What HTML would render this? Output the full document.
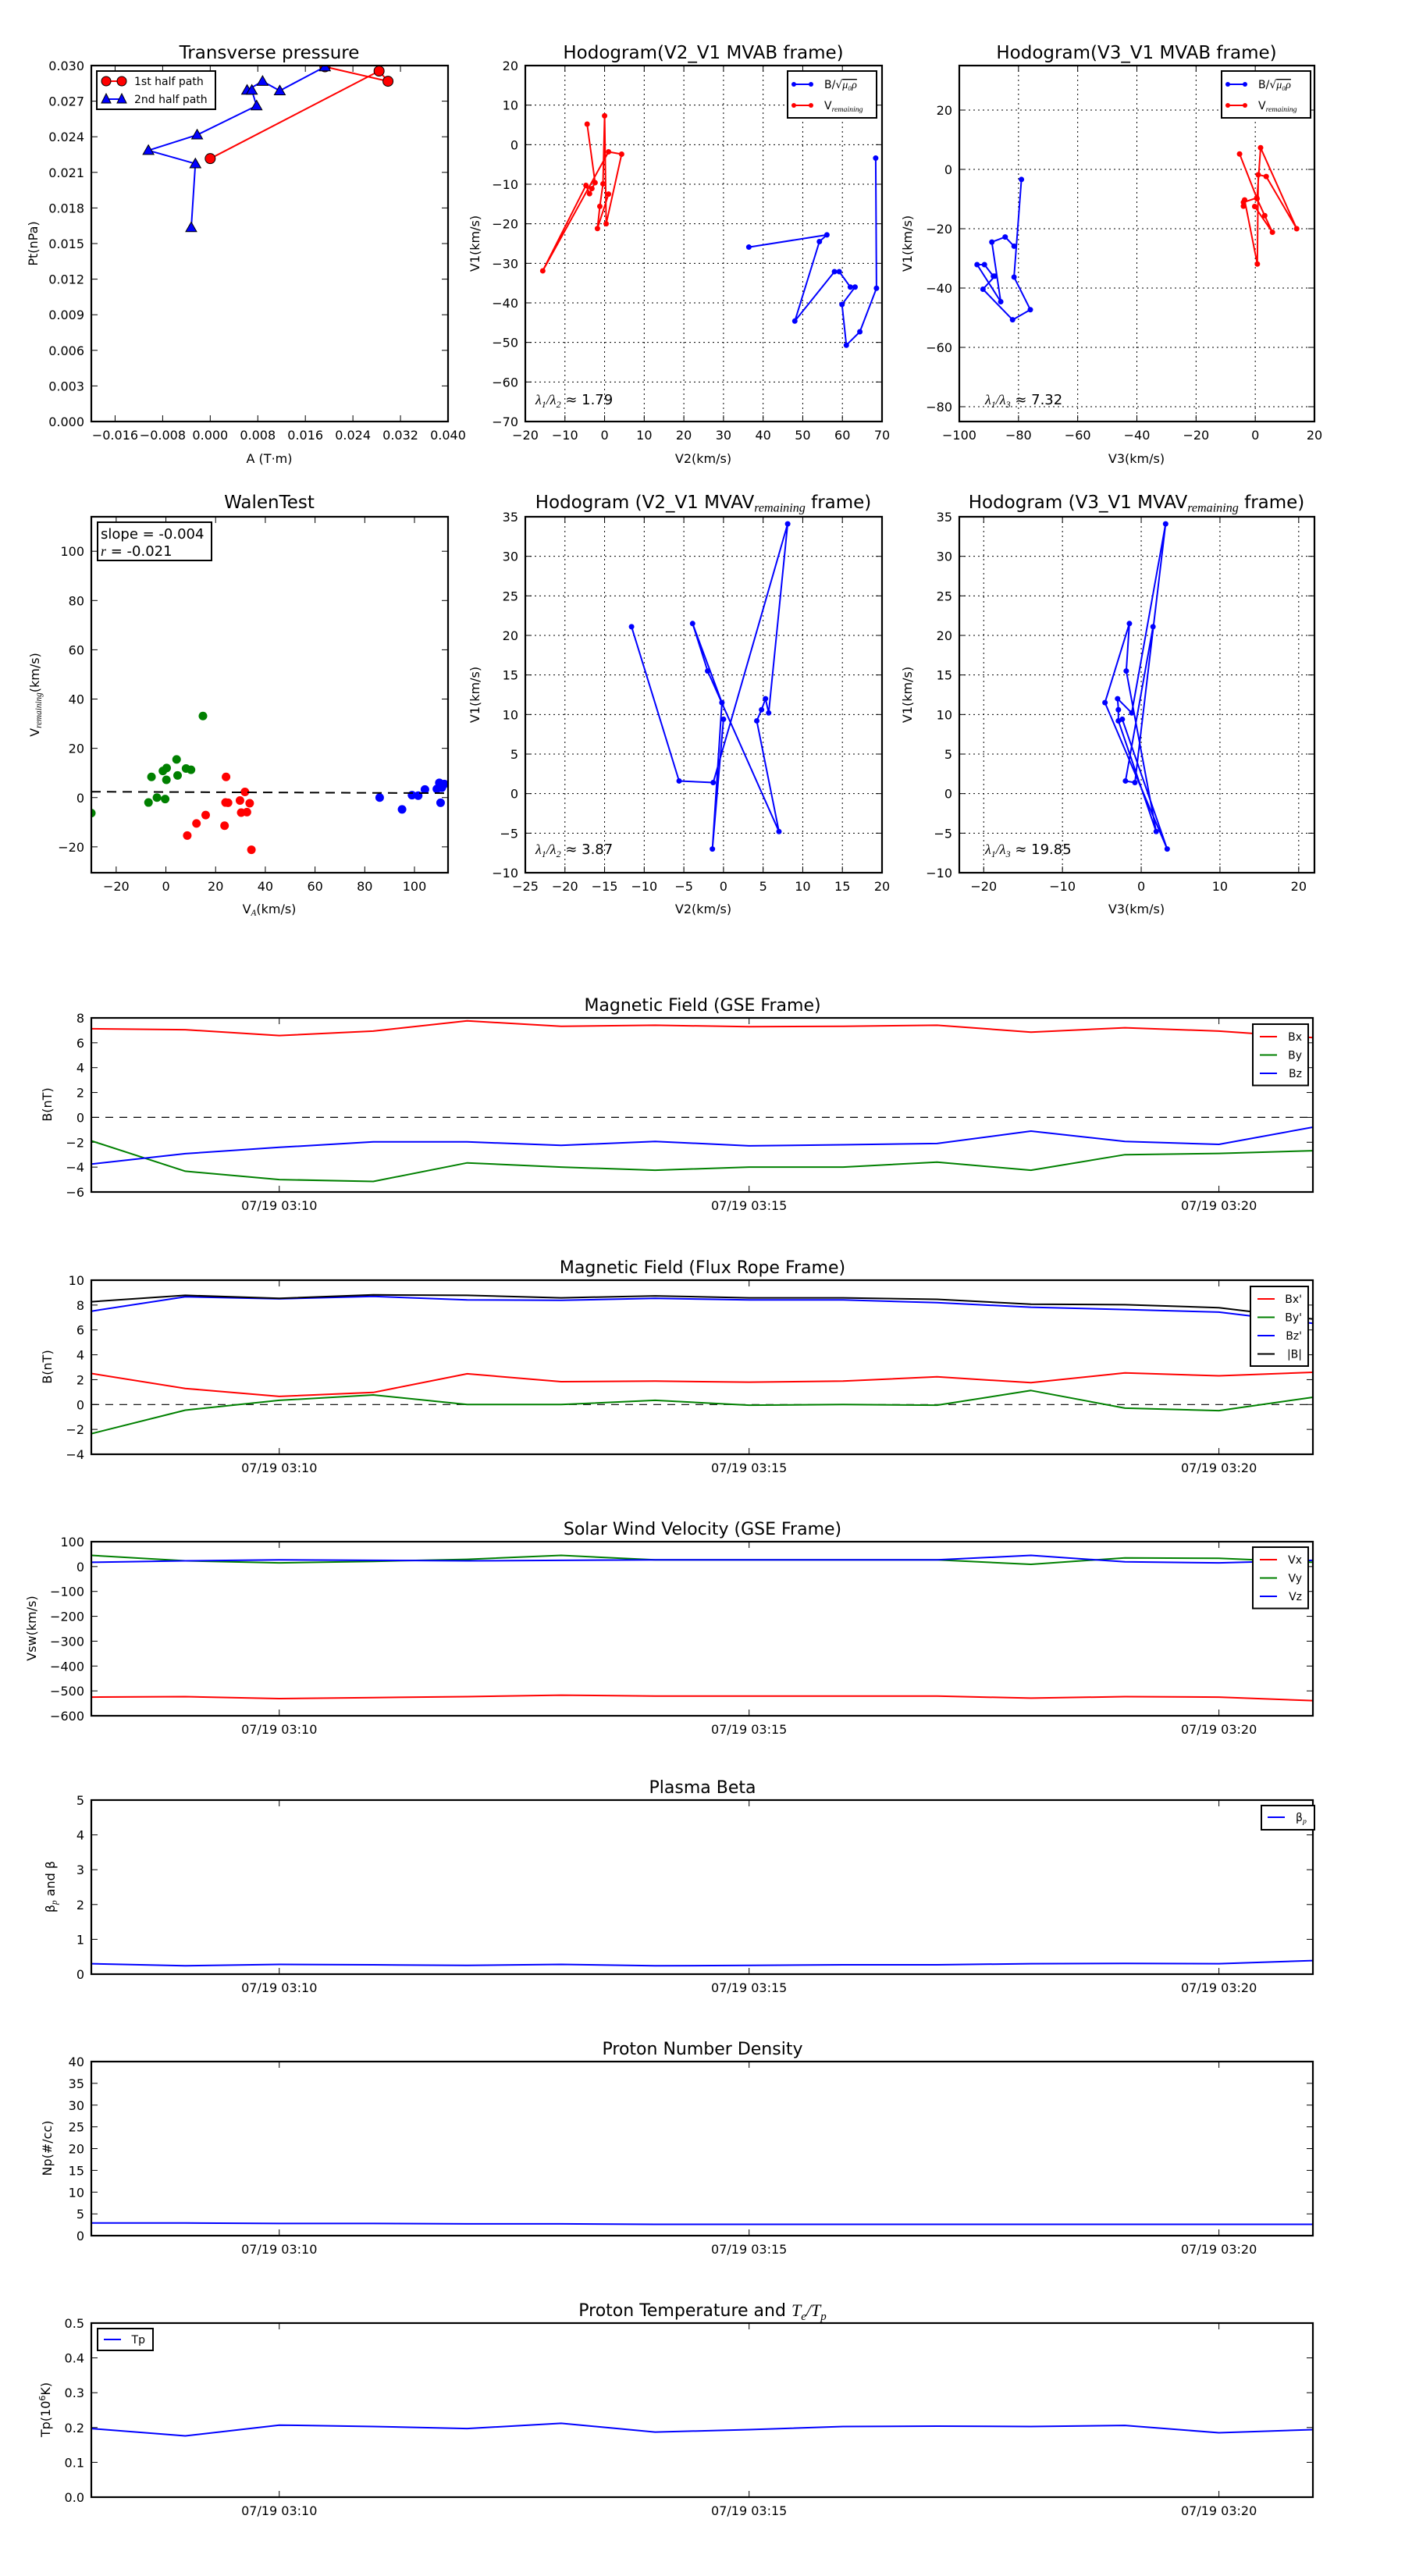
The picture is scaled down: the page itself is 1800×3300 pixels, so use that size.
<!DOCTYPE html>
<html><head><meta charset="utf-8"><title>Flux rope analysis</title>
<style>
html,body{margin:0;padding:0;background:#fff;}
svg{display:block;font-family:"DejaVu Sans","Liberation Sans",sans-serif;}
</style></head>
<body>
<svg id="fig" xmlns="http://www.w3.org/2000/svg" width="1800" height="3300" viewBox="0 0 1800 3300"></svg>
<script>
// ---------- Transverse pressure ----------
const tpA1 = [0.0000, 0.0284, 0.0299, 0.0193];
const tpP1 = [0.02216, 0.02954, 0.02868, 0.02990];
const tpA2 = [0.0193, 0.0117, 0.0088, 0.0062, 0.0070, 0.0078, -0.0022, -0.0104, -0.0025, -0.0032];
const tpP2 = [0.02990, 0.02788, 0.02868, 0.02793, 0.02793, 0.02661, 0.02416, 0.02285, 0.02173, 0.01635];
const tpXTicks = [-0.016, -0.008, 0, 0.008, 0.016, 0.024, 0.032, 0.040];
const tpYTicks = [0, 0.003, 0.006, 0.009, 0.012, 0.015, 0.018, 0.021, 0.024, 0.027, 0.030];
// ---------- MVAB hodograms ----------
const mvabBlueV2 = [36.4, 56.1, 54.2, 48.0, 58.0, 59.2, 62.0, 63.2, 59.9, 61.0, 64.4, 68.6, 68.4];
const mvabBlueV1 = [-25.9, -22.8, -24.5, -44.6, -32.1, -32.1, -36.0, -36.0, -40.4, -50.7, -47.3, -36.3, -3.4];
const mvabBlueV3 = [-81.5, -84.5, -89, -86, -94, -91.5, -88.5, -88, -92, -82, -76, -81.5, -79];
const mvabRedV2 = [-4.4, -2.4, -3.2, -3.8, -4.7, -15.6, 1.0, 4.3, 0.4, 0.0, -0.4, -1.2, -1.8, 1.0];
const mvabRedV1 = [5.2, -9.6, -11.1, -12.4, -10.3, -31.9, -1.8, -2.4, -20.0, 7.3, -9.9, -15.6, -21.2, -12.5];
const mvabRedV3 = [-5.3, 0.5, -4.0, -4.0, -3.6, 0.7, 1.0, 3.7, 14.0, 1.8, 0.6, 3.2, 5.8, -0.2];
// ---------- Walen test ----------
const walenGreenX = [-30, -7, -5.8, -3.6, -1.2, 0.3, -0.3, 0.2, 4.3, 4.7, 8.1, 10.1, 14.9];
const walenGreenY = [-6.3, -2.0, 8.4, 0.0, 10.8, 12.0, -0.6, 7.2, 15.5, 9.0, 11.8, 11.3, 33.1];
const walenRedX = [24.2, 24.0, 25.0, 29.8, 31.8, 33.7, 30.3, 32.6, 16.0, 12.3, 23.6, 8.6, 34.4];
const walenRedY = [8.4, -2.0, -2.1, -1.2, 2.3, -2.3, -6.1, -5.9, -7.1, -10.5, -11.4, -15.4, -21.2];
const walenBlueX = [86, 95, 99, 101.5, 104.2, 109, 110, 112, 110.5, 111];
const walenBlueY = [0.0, -4.8, 1.0, 0.8, 3.3, 3.5, 6.0, 5.5, -2.1, 4.0];
const walenFitX = [-30, 113];
const walenFitY = [2.4, 1.8];
const walenTicks = [-20, 0, 20, 40, 60, 80, 100];
// ---------- MVAV hodograms ----------
const mvavV1 = [21.1, 1.6, 1.4, 34.1, 10.2, 12.0, 10.6, 9.2, -4.8, 15.5, 21.5, 11.5, -7.0, 9.4];
const mvavV2 = [-11.6, -5.6, -1.3, 8.1, 5.7, 5.3, 4.8, 4.2, 7.0, -2.0, -3.9, -0.2, -1.4, 0.0];
const mvavV3 = [1.5, -2.0, -0.8, 3.1, -1.2, -3.0, -2.9, -2.9, 1.9, -1.9, -1.5, -4.6, 3.3, -2.4];
// ---------- Time series (minutes after 03:00) ----------
const tsMinutes = [8, 9, 10, 11, 12, 13, 14, 15, 16, 17, 18, 19, 20, 21];
const tsTickMinutes = [10, 15, 20];
const tsTickLabels = ["07/19 03:10", "07/19 03:15", "07/19 03:20"];
const gseBx = [7.13, 7.05, 6.58, 6.94, 7.76, 7.33, 7.41, 7.29, 7.33, 7.41, 6.86, 7.21, 6.94, 6.42];
const gseBy = [-1.89, -4.33, -5.0, -5.15, -3.66, -4.0, -4.25, -4.0, -4.0, -3.6, -4.25, -3.0, -2.9, -2.68];
const gseBz = [-3.75, -2.92, -2.41, -1.97, -1.97, -2.25, -1.93, -2.29, -2.2, -2.1, -1.1, -1.93, -2.17, -0.79];
const frBx = [2.5, 1.29, 0.65, 0.97, 2.47, 1.84, 1.88, 1.8, 1.88, 2.23, 1.76, 2.55, 2.31, 2.59];
const frBy = [-2.34, -0.45, 0.34, 0.77, 0.0, 0.0, 0.34, -0.05, 0.0, -0.05, 1.13, -0.29, -0.49, 0.58];
const frBz = [7.51, 8.66, 8.5, 8.7, 8.42, 8.38, 8.54, 8.42, 8.42, 8.19, 7.83, 7.64, 7.43, 6.53];
const frBt = [8.27, 8.78, 8.54, 8.82, 8.78, 8.58, 8.74, 8.58, 8.58, 8.46, 8.07, 8.03, 7.79, 6.88];
const vswVx = [-525, -523, -531, -527, -523, -517, -521, -521, -521, -521, -529, -523, -525, -539];
const vswVy = [45, 23, 15, 21, 29, 45, 27, 27, 27, 27, 9, 35, 33, 17];
const vswVz = [17, 23, 27, 25, 23, 25, 27, 27, 27, 27, 45, 19, 15, 25];
const betaP = [0.30, 0.24, 0.28, 0.27, 0.25, 0.28, 0.24, 0.25, 0.27, 0.27, 0.30, 0.31, 0.30, 0.39];
const densNp = [2.9, 2.9, 2.8, 2.8, 2.7, 2.7, 2.6, 2.6, 2.6, 2.6, 2.6, 2.6, 2.6, 2.6];
const tempTp = [0.197, 0.176, 0.207, 0.203, 0.197, 0.212, 0.187, 0.194, 0.203, 0.204, 0.203, 0.206, 0.185, 0.194];

const NS = "http://www.w3.org/2000/svg";
const fig = document.getElementById("fig");
let clipId = 0;

function mk(tag, attrs, parent, name) {
  const e = document.createElementNS(NS, tag);
  for (const k in attrs) e.setAttribute(k, attrs[k]);
  
  
  parent.appendChild(e);
  return e;
}
function txt(parent, x, y, s, size, anchor, name, extra) {
  const t = mk("text", Object.assign({x: x, y: y, "font-size": size, "text-anchor": anchor || "middle", fill: "#000"}, extra || {}), parent, name);
  t.textContent = s;
  return t;
}
function fmtNum(v, d) {
  const s = Math.abs(v).toFixed(d);
  return (v < -1e-12 ? "\u2212" : "") + s;
}

function makeAxes(o) {
  const g = mk("g", {}, fig, o.name);
  const sx = v => o.x0 + (v - o.xmin) / (o.xmax - o.xmin) * o.w;
  const sy = v => o.y0 + o.h - (v - o.ymin) / (o.ymax - o.ymin) * o.h;
  const id = "clip" + (clipId++);
  const cp = mk("clipPath", {id: id}, g, "clip-region");
  mk("rect", {x: o.x0, y: o.y0, width: o.w, height: o.h}, cp, "clip-rect");
  const tl = o.tickLen || 8;
  const fs = o.fs || 16;
  if (o.grid) {
    o.xt.forEach(v => { const X = sx(v); if (X > o.x0 + 1 && X < o.x0 + o.w - 1)
      mk("line", {x1: X, x2: X, y1: o.y0, y2: o.y0 + o.h, stroke: "#000", "stroke-width": 1, "stroke-dasharray": "2,4"}, g, "x-gridline"); });
    o.yt.forEach(v => { const Y = sy(v); if (Y > o.y0 + 1 && Y < o.y0 + o.h - 1)
      mk("line", {x1: o.x0, x2: o.x0 + o.w, y1: Y, y2: Y, stroke: "#000", "stroke-width": 1, "stroke-dasharray": "2,4"}, g, "y-gridline"); });
  }
  o.xt.forEach((v, i) => {
    const X = sx(v);
    mk("line", {x1: X, x2: X, y1: o.y0 + o.h, y2: o.y0 + o.h - tl, stroke: "#000", "stroke-width": 1}, g, "x-tick");
    mk("line", {x1: X, x2: X, y1: o.y0, y2: o.y0 + tl, stroke: "#000", "stroke-width": 1}, g, "x-tick-top");
    const lab = o.xlab ? o.xlab[i] : fmtNum(v, o.xd || 0);
    txt(g, X, o.y0 + o.h + 23, lab, fs, "middle", "x-tick-label");
  });
  o.yt.forEach((v, i) => {
    const Y = sy(v);
    mk("line", {x1: o.x0, x2: o.x0 + tl, y1: Y, y2: Y, stroke: "#000", "stroke-width": 1}, g, "y-tick");
    mk("line", {x1: o.x0 + o.w, x2: o.x0 + o.w - tl, y1: Y, y2: Y, stroke: "#000", "stroke-width": 1}, g, "y-tick-right");
    txt(g, o.x0 - 9, Y + 6, fmtNum(v, o.yd || 0), fs, "end", "y-tick-label");
  });
  const data = mk("g", {"clip-path": "url(#" + id + ")"}, g, "plot-area");
  return {g: g, data: data, sx: sx, sy: sy, o: o};
}
function frame(ax) {
  const o = ax.o;
  mk("rect", {x: o.x0, y: o.y0, width: o.w, height: o.h, fill: "none", stroke: "#000", "stroke-width": 2.2}, ax.g, "axes-frame");
}
function polyline(ax, xs, ys, color, name, width, dash) {
  const pts = xs.map((x, i) => ax.sx(x).toFixed(1) + "," + ax.sy(ys[i]).toFixed(1)).join(" ");
  const a = {points: pts, fill: "none", stroke: color, "stroke-width": width || 2, "stroke-linejoin": "round"};
  if (dash) a["stroke-dasharray"] = dash;
  return mk("polyline", a, ax.data, name);
}
function dots(ax, xs, ys, color, r, name, edge) {
  xs.forEach((x, i) => {
    mk("circle", {cx: ax.sx(x), cy: ax.sy(ys[i]), r: r, fill: color, stroke: edge ? "#000" : "none", "stroke-width": edge ? 1 : 0}, ax.data, name);
  });
}
function tris(ax, xs, ys, color, s, name) {
  xs.forEach((x, i) => {
    const X = ax.sx(x), Y = ax.sy(ys[i]);
    mk("polygon", {points: `${X},${Y - s} ${X - s},${Y + s * 0.75} ${X + s},${Y + s * 0.75}`, fill: color, stroke: "#000", "stroke-width": 1}, ax.data, name);
  });
}
function ylabel(parent, x, y, s, size, name) {
  return txt(parent, x, y, s, size, "middle", name, {transform: `rotate(-90 ${x} ${y})`});
}
function subscripted(parent, x, y, base, sub, tail, size, anchor, name) {
  const t = mk("text", {x: x, y: y, "font-size": size, "text-anchor": anchor, fill: "#000"}, parent, name);
  const a = mk("tspan", {}, t, name + "-base"); a.textContent = base;
  const b = mk("tspan", {"font-style": "italic", "font-family": "Liberation Serif, serif", "font-size": size * 0.7, dy: size * 0.2}, t, name + "-sub"); b.textContent = sub;
  if (tail) { const c = mk("tspan", {dy: -size * 0.2}, t, name + "-tail"); c.textContent = tail; }
  return t;
}
function lambdaText(parent, x, y, a, b, val) {
  const t = mk("text", {x: x, y: y, "font-size": 18, fill: "#000"}, parent, "eigenvalue-ratio");
  const p = [["\u03bb", 0, 18, "it"], [a, 4, 12, "it"], ["/\u03bb", -4, 18, "it"], [b, 4, 12, "it"], [" \u2248 " + val, -4, 18, ""]];
  p.forEach(q => {
    const s = mk("tspan", {dy: q[1], "font-size": q[2], "font-family": q[3] ? "Liberation Serif, serif" : "DejaVu Sans, sans-serif", "font-style": q[3] ? "italic" : "normal"}, t, "ratio-part");
    s.textContent = q[0];
  });
}
function legendBox(parent, x, y, w, h, name) {
  return mk("rect", {x: x, y: y, width: w, height: h, fill: "#fff", stroke: "#000", "stroke-width": 2}, parent, name);
}
function bmuLegend(parent, x0, y0) {
  const g = mk("g", {}, parent, "legend");
  legendBox(g, x0, y0, 114, 60, "legend-box");
  mk("line", {x1: x0 + 8, x2: x0 + 30, y1: y0 + 17, y2: y0 + 17, stroke: "#0000ff", "stroke-width": 2}, g, "legend-line-b");
  mk("circle", {cx: x0 + 8, cy: y0 + 17, r: 3, fill: "#0000ff"}, g, "legend-marker");
  mk("circle", {cx: x0 + 30, cy: y0 + 17, r: 3, fill: "#0000ff"}, g, "legend-marker");
  const t = mk("text", {x: x0 + 47, y: y0 + 22, "font-size": 14}, g, "legend-label-b");
  const s1 = mk("tspan", {}, t, "label-b"); s1.textContent = "B/\u221a";
  const s2 = mk("tspan", {"font-style": "italic", "font-family": "Liberation Serif, serif", "text-decoration": "overline"}, t, "label-mu"); s2.textContent = "\u03bc\u2080\u03c1";
  mk("line", {x1: x0 + 8, x2: x0 + 30, y1: y0 + 44, y2: y0 + 44, stroke: "#ff0000", "stroke-width": 2}, g, "legend-line-v");
  mk("circle", {cx: x0 + 8, cy: y0 + 44, r: 3, fill: "#ff0000"}, g, "legend-marker");
  mk("circle", {cx: x0 + 30, cy: y0 + 44, r: 3, fill: "#ff0000"}, g, "legend-marker");
  subscripted(g, x0 + 47, y0 + 49, "V", "remaining", "", 14, "start", "legend-label-v");
}
function tsLegend(parent, x0, y0, w, entries, name) {
  const g = mk("g", {}, parent, name);
  const h = entries.length * 23.5 + 8;
  legendBox(g, x0, y0, w, h, "legend-box");
  entries.forEach((e, i) => {
    const y = y0 + 16 + i * 23.5;
    mk("line", {x1: x0 + 9, x2: x0 + 31, y1: y, y2: y, stroke: e[1], "stroke-width": 2}, g, "legend-line");
    const t = mk("text", {x: x0 + w - 8, y: y + 5, "font-size": 14, "text-anchor": "end"}, g, "legend-label");
    t.textContent = e[0];
  });
}

// ================= Top row =================
(function () {
  const ax = makeAxes({name: "transverse-pressure-chart", x0: 117, y0: 84, w: 457, h: 456, xmin: -0.020, xmax: 0.040, ymin: 0, ymax: 0.030, xt: tpXTicks, yt: tpYTicks, xd: 3, yd: 3});
  txt(ax.g, 345, 75, "Transverse pressure", 23, "middle", "chart-title");
  txt(ax.g, 345, 593, "A (T\u00b7m)", 16, "middle", "x-axis-title");
  ylabel(ax.g, 48, 312, "Pt(nPa)", 16, "y-axis-title");
  polyline(ax, tpA1, tpP1, "#ff0000", "first-half-path-line", 2);
  polyline(ax, tpA2, tpP2, "#0000ff", "second-half-path-line", 2);
  dots(ax, tpA1, tpP1, "#ff0000", 6.5, "first-half-point", true);
  tris(ax, tpA2, tpP2, "#0000ff", 7, "second-half-point");
  frame(ax);
  const lg = mk("g", {}, ax.g, "legend");
  legendBox(lg, 124, 91, 152, 49, "legend-box");
  mk("line", {x1: 136, x2: 156, y1: 104, y2: 104, stroke: "#ff0000", "stroke-width": 2}, lg, "legend-line");
  mk("circle", {cx: 136, cy: 104, r: 6, fill: "#ff0000", stroke: "#000"}, lg, "legend-marker");
  mk("circle", {cx: 156, cy: 104, r: 6, fill: "#ff0000", stroke: "#000"}, lg, "legend-marker");
  txt(lg, 172, 109, "1st half path", 14, "start", "legend-label");
  mk("line", {x1: 136, x2: 156, y1: 127, y2: 127, stroke: "#0000ff", "stroke-width": 2}, lg, "legend-line");
  mk("polygon", {points: "136,120 130,132 142,132", fill: "#0000ff", stroke: "#000"}, lg, "legend-marker");
  mk("polygon", {points: "156,120 150,132 162,132", fill: "#0000ff", stroke: "#000"}, lg, "legend-marker");
  txt(lg, 172, 132, "2nd half path", 14, "start", "legend-label");
})();
(function () {
  const ax = makeAxes({name: "hodogram-v2-v1-mvab", x0: 673, y0: 84, w: 457, h: 456, xmin: -20, xmax: 70, ymin: -70, ymax: 20, xt: [-20, -10, 0, 10, 20, 30, 40, 50, 60, 70], yt: [-70, -60, -50, -40, -30, -20, -10, 0, 10, 20], grid: true});
  txt(ax.g, 901, 75, "Hodogram(V2_V1 MVAB frame)", 23, "middle", "chart-title");
  txt(ax.g, 901, 593, "V2(km/s)", 16, "middle", "x-axis-title");
  ylabel(ax.g, 614, 312, "V1(km/s)", 16, "y-axis-title");
  polyline(ax, mvabBlueV2, mvabBlueV1, "#0000ff", "b-alfven-line", 2);
  dots(ax, mvabBlueV2, mvabBlueV1, "#0000ff", 3.5, "b-alfven-point");
  polyline(ax, mvabRedV2, mvabRedV1, "#ff0000", "v-remaining-line", 2);
  dots(ax, mvabRedV2, mvabRedV1, "#ff0000", 3.5, "v-remaining-point");
  frame(ax);
  lambdaText(ax.g, 686, 518, "1", "2", "1.79");
  bmuLegend(ax.g, 1009, 91);
})();
(function () {
  const ax = makeAxes({name: "hodogram-v3-v1-mvab", x0: 1229, y0: 84, w: 455, h: 456, xmin: -100, xmax: 20, ymin: -85, ymax: 35, xt: [-100, -80, -60, -40, -20, 0, 20], yt: [-80, -60, -40, -20, 0, 20], grid: true});
  txt(ax.g, 1456, 75, "Hodogram(V3_V1 MVAB frame)", 23, "middle", "chart-title");
  txt(ax.g, 1456, 593, "V3(km/s)", 16, "middle", "x-axis-title");
  ylabel(ax.g, 1168, 312, "V1(km/s)", 16, "y-axis-title");
  polyline(ax, mvabBlueV3, mvabBlueV1, "#0000ff", "b-alfven-line", 2);
  dots(ax, mvabBlueV3, mvabBlueV1, "#0000ff", 3.5, "b-alfven-point");
  polyline(ax, mvabRedV3, mvabRedV1, "#ff0000", "v-remaining-line", 2);
  dots(ax, mvabRedV3, mvabRedV1, "#ff0000", 3.5, "v-remaining-point");
  frame(ax);
  lambdaText(ax.g, 1262, 518, "1", "3", "7.32");
  bmuLegend(ax.g, 1565, 91);
})();

// ================= Row 2 =================
(function () {
  const ax = makeAxes({name: "walen-test-chart", x0: 117, y0: 662, w: 457, h: 456, xmin: -30, xmax: 113.5, ymin: -30.5, ymax: 114, xt: walenTicks, yt: walenTicks});
  txt(ax.g, 345, 651, "WalenTest", 23, "middle", "chart-title");
  subscripted(ax.g, 345, 1170, "V", "A", "(km/s)", 16, "middle", "x-axis-title");
  const yl = subscripted(ax.g, 50, 890, "V", "remaining", "(km/s)", 16, "middle", "y-axis-title");
  yl.setAttribute("transform", "rotate(-90 50 890)");
  dots(ax, walenGreenX, walenGreenY, "#008000", 5.5, "walen-green-point");
  dots(ax, walenRedX, walenRedY, "#ff0000", 5.5, "walen-red-point");
  dots(ax, walenBlueX, walenBlueY, "#0000ff", 5.5, "walen-blue-point");
  polyline(ax, walenFitX, walenFitY, "#000", "walen-fit-line", 2, "12,8");
  frame(ax);
  const bx = mk("g", {}, ax.g, "walen-stats-box");
  legendBox(bx, 125, 669, 146, 49, "stats-box");
  txt(bx, 129, 690, "slope = -0.004", 18, "start", "slope-text");
  const r = mk("text", {x: 129, y: 712, "font-size": 18}, bx, "r-text");
  const r1 = mk("tspan", {"font-style": "italic", "font-family": "Liberation Serif, serif"}, r, "r-symbol"); r1.textContent = "r";
  const r2 = mk("tspan", {}, r, "r-value"); r2.textContent = " = -0.021";
})();
(function () {
  const ax = makeAxes({name: "hodogram-v2-v1-mvav", x0: 673, y0: 662, w: 457, h: 456, xmin: -25, xmax: 20, ymin: -10, ymax: 35, xt: [-25, -20, -15, -10, -5, 0, 5, 10, 15, 20], yt: [-10, -5, 0, 5, 10, 15, 20, 25, 30, 35], grid: true});
  subscripted(ax.g, 901, 651, "Hodogram (V2_V1 MVAV", "remaining", " frame)", 23, "middle", "chart-title");
  txt(ax.g, 901, 1170, "V2(km/s)", 16, "middle", "x-axis-title");
  ylabel(ax.g, 614, 890, "V1(km/s)", 16, "y-axis-title");
  polyline(ax, mvavV2, mvavV1, "#0000ff", "hodogram-line", 2);
  dots(ax, mvavV2, mvavV1, "#0000ff", 3.5, "hodogram-point");
  frame(ax);
  lambdaText(ax.g, 686, 1094, "1", "2", "3.87");
})();
(function () {
  const ax = makeAxes({name: "hodogram-v3-v1-mvav", x0: 1229, y0: 662, w: 455, h: 456, xmin: -23.1, xmax: 22, ymin: -10, ymax: 35, xt: [-20, -10, 0, 10, 20], yt: [-10, -5, 0, 5, 10, 15, 20, 25, 30, 35], grid: true});
  subscripted(ax.g, 1456, 651, "Hodogram (V3_V1 MVAV", "remaining", " frame)", 23, "middle", "chart-title");
  txt(ax.g, 1456, 1170, "V3(km/s)", 16, "middle", "x-axis-title");
  ylabel(ax.g, 1168, 890, "V1(km/s)", 16, "y-axis-title");
  polyline(ax, mvavV3, mvavV1, "#0000ff", "hodogram-line", 2);
  dots(ax, mvavV3, mvavV1, "#0000ff", 3.5, "hodogram-point");
  frame(ax);
  lambdaText(ax.g, 1262, 1094, "1", "3", "19.85");
})();

// ================= Time series =================
function tsAxes(name, y0, ymin, ymax, yt, yd) {
  return makeAxes({name: name, x0: 117, y0: y0, w: 1565, h: 223, xmin: 8, xmax: 21, ymin: ymin, ymax: ymax, xt: tsTickMinutes, xlab: tsTickLabels, yt: yt, yd: yd || 0});
}
(function () {
  const ax = tsAxes("magnetic-field-gse-chart", 1304, -6, 8, [-6, -4, -2, 0, 2, 4, 6, 8]);
  txt(ax.g, 900, 1295, "Magnetic Field (GSE Frame)", 22, "middle", "chart-title");
  ylabel(ax.g, 66, 1415, "B(nT)", 16, "y-axis-title");
  polyline(ax, [8, 21], [0, 0], "#000", "zero-line", 1.2, "10,8");
  polyline(ax, tsMinutes, gseBx, "#ff0000", "bx-line", 2);
  polyline(ax, tsMinutes, gseBy, "#008000", "by-line", 2);
  polyline(ax, tsMinutes, gseBz, "#0000ff", "bz-line", 2);
  frame(ax);
  tsLegend(ax.g, 1605, 1312, 71, [["Bx", "#ff0000"], ["By", "#008000"], ["Bz", "#0000ff"]], "legend");
})();
(function () {
  const ax = tsAxes("magnetic-field-flux-rope-chart", 1640, -4, 10, [-4, -2, 0, 2, 4, 6, 8, 10]);
  txt(ax.g, 900, 1631, "Magnetic Field (Flux Rope Frame)", 22, "middle", "chart-title");
  ylabel(ax.g, 66, 1751, "B(nT)", 16, "y-axis-title");
  polyline(ax, [8, 21], [0, 0], "#000", "zero-line", 1.2, "10,8");
  polyline(ax, tsMinutes, frBx, "#ff0000", "bx-prime-line", 2);
  polyline(ax, tsMinutes, frBy, "#008000", "by-prime-line", 2);
  polyline(ax, tsMinutes, frBz, "#0000ff", "bz-prime-line", 2);
  polyline(ax, tsMinutes, frBt, "#000000", "b-magnitude-line", 2);
  frame(ax);
  tsLegend(ax.g, 1602, 1648, 74, [["Bx'", "#ff0000"], ["By'", "#008000"], ["Bz'", "#0000ff"], ["|B|", "#000000"]], "legend");
})();
(function () {
  const ax = tsAxes("solar-wind-velocity-chart", 1975, -600, 100, [-600, -500, -400, -300, -200, -100, 0, 100]);
  txt(ax.g, 900, 1966, "Solar Wind Velocity (GSE Frame)", 22, "middle", "chart-title");
  ylabel(ax.g, 46, 2086, "Vsw(km/s)", 16, "y-axis-title");
  polyline(ax, tsMinutes, vswVx, "#ff0000", "vx-line", 2);
  polyline(ax, tsMinutes, vswVy, "#008000", "vy-line", 2);
  polyline(ax, tsMinutes, vswVz, "#0000ff", "vz-line", 2);
  frame(ax);
  tsLegend(ax.g, 1605, 1982, 71, [["Vx", "#ff0000"], ["Vy", "#008000"], ["Vz", "#0000ff"]], "legend");
})();
(function () {
  const ax = tsAxes("plasma-beta-chart", 2306, 0, 5, [0, 1, 2, 3, 4, 5]);
  txt(ax.g, 900, 2297, "Plasma Beta", 22, "middle", "chart-title");
  const yl = subscripted(ax.g, 70, 2417, "\u03b2", "p", " and \u03b2", 16, "middle", "y-axis-title");
  yl.setAttribute("transform", "rotate(-90 70 2417)");
  polyline(ax, tsMinutes, betaP, "#0000ff", "beta-p-line", 2);
  frame(ax);
  const g = mk("g", {}, ax.g, "legend");
  legendBox(g, 1616, 2313, 68, 31, "legend-box");
  mk("line", {x1: 1624, x2: 1646, y1: 2328, y2: 2328, stroke: "#0000ff", "stroke-width": 2}, g, "legend-line");
  subscripted(g, 1660, 2333, "\u03b2", "p", "", 14, "start", "legend-label");
})();
(function () {
  const ax = tsAxes("proton-density-chart", 2641, 0, 40, [0, 5, 10, 15, 20, 25, 30, 35, 40]);
  txt(ax.g, 900, 2632, "Proton Number Density", 22, "middle", "chart-title");
  ylabel(ax.g, 66, 2752, "Np(#/cc)", 16, "y-axis-title");
  polyline(ax, tsMinutes, densNp, "#0000ff", "np-line", 2);
  frame(ax);
})();
(function () {
  const ax = tsAxes("proton-temperature-chart", 2976, 0, 0.5, [0, 0.1, 0.2, 0.3, 0.4, 0.5], 1);
  const t = mk("text", {x: 900, y: 2967, "font-size": 22, "text-anchor": "middle"}, ax.g, "chart-title");
  const p = [["Proton Temperature and ", 0, 22, ""], ["T", 0, 22, "it"], ["e", 5, 15, "it"], ["/T", -5, 22, "it"], ["p", 5, 15, "it"]];
  p.forEach(q => {
    const s = mk("tspan", {dy: q[1], "font-size": q[2], "font-family": q[3] ? "Liberation Serif, serif" : "DejaVu Sans, sans-serif", "font-style": q[3] ? "italic" : "normal"}, t, "title-part");
    s.textContent = q[0];
  });
  const yl = mk("text", {x: 64, y: 3087, "font-size": 16, "text-anchor": "middle", transform: "rotate(-90 64 3087)"}, ax.g, "y-axis-title");
  const a = mk("tspan", {}, yl, "label-base"); a.textContent = "Tp(10";
  const b = mk("tspan", {"font-size": 11, dy: -6}, yl, "label-exp"); b.textContent = "6";
  const c = mk("tspan", {dy: 6}, yl, "label-tail"); c.textContent = "K)";
  polyline(ax, tsMinutes, tempTp, "#0000ff", "tp-line", 2);
  frame(ax);
  const g = mk("g", {}, ax.g, "legend");
  legendBox(g, 125, 2983, 71, 28, "legend-box");
  mk("line", {x1: 133, x2: 155, y1: 2997, y2: 2997, stroke: "#0000ff", "stroke-width": 2}, g, "legend-line");
  txt(g, 186, 3002, "Tp", 14, "end", "legend-label");
})();
</script>
</body></html>
